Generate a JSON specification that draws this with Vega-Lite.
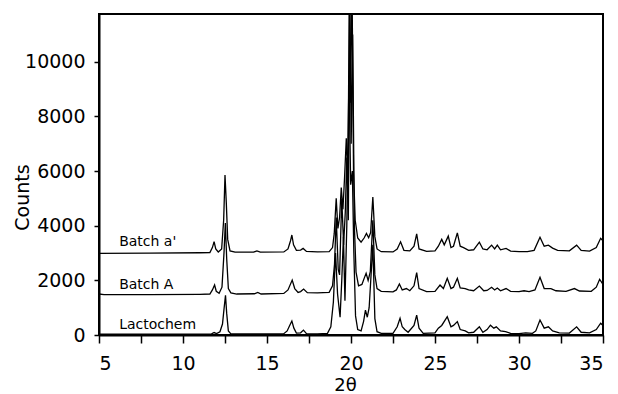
{
  "$schema": "https://vega.github.io/schema/vega-lite/v6.json",
  "width": 504,
  "height": 321,
  "autosize": {"type": "none"},
  "padding": {"left": 99, "top": 14, "right": 15, "bottom": 59},
  "background": "white",
  "config": {"view": {"stroke": "black", "strokeWidth": 2}, "font": "DejaVu Sans"},
  "datasets": {
    "labels": [
      {"label": "Batch a'", "x": 6.2, "y": 3400},
      {"label": "Batch A", "x": 6.2, "y": 1830},
      {"label": "Lactochem", "x": 6.2, "y": 366}
    ],
    "xrd": [
      {"s": "Batch a'", "x": 5.0, "y": 2990}, {"s": "Batch a'", "x": 8.0, "y": 3000}, {"s": "Batch a'", "x": 11.0, "y": 3010}, {"s": "Batch a'", "x": 11.6, "y": 3020}, {"s": "Batch a'", "x": 11.75, "y": 3200}, {"s": "Batch a'", "x": 11.85, "y": 3420}, {"s": "Batch a'", "x": 11.95, "y": 3150}, {"s": "Batch a'", "x": 12.1, "y": 3040}, {"s": "Batch a'", "x": 12.3, "y": 3150}, {"s": "Batch a'", "x": 12.42, "y": 4200}, {"s": "Batch a'", "x": 12.5, "y": 5860}, {"s": "Batch a'", "x": 12.58, "y": 4800}, {"s": "Batch a'", "x": 12.66, "y": 3500}, {"s": "Batch a'", "x": 12.8, "y": 3080}, {"s": "Batch a'", "x": 13.1, "y": 3030}, {"s": "Batch a'", "x": 14.2, "y": 3030}, {"s": "Batch a'", "x": 14.4, "y": 3080}, {"s": "Batch a'", "x": 14.6, "y": 3030}, {"s": "Batch a'", "x": 16.0, "y": 3040}, {"s": "Batch a'", "x": 16.25, "y": 3150}, {"s": "Batch a'", "x": 16.4, "y": 3450}, {"s": "Batch a'", "x": 16.48, "y": 3660}, {"s": "Batch a'", "x": 16.58, "y": 3300}, {"s": "Batch a'", "x": 16.75, "y": 3100}, {"s": "Batch a'", "x": 17.0, "y": 3110}, {"s": "Batch a'", "x": 17.15, "y": 3170}, {"s": "Batch a'", "x": 17.35, "y": 3060}, {"s": "Batch a'", "x": 18.0, "y": 3040}, {"s": "Batch a'", "x": 18.7, "y": 3050}, {"s": "Batch a'", "x": 18.9, "y": 3200}, {"s": "Batch a'", "x": 19.0, "y": 3700}, {"s": "Batch a'", "x": 19.12, "y": 5000}, {"s": "Batch a'", "x": 19.22, "y": 3900}, {"s": "Batch a'", "x": 19.32, "y": 4300}, {"s": "Batch a'", "x": 19.42, "y": 5400}, {"s": "Batch a'", "x": 19.52, "y": 4600}, {"s": "Batch a'", "x": 19.62, "y": 5800}, {"s": "Batch a'", "x": 19.72, "y": 7200}, {"s": "Batch a'", "x": 19.82, "y": 5600}, {"s": "Batch a'", "x": 19.9, "y": 13000}, {"s": "Batch a'", "x": 19.97, "y": 8500}, {"s": "Batch a'", "x": 20.06, "y": 13000}, {"s": "Batch a'", "x": 20.15, "y": 6000}, {"s": "Batch a'", "x": 20.25, "y": 4200}, {"s": "Batch a'", "x": 20.4, "y": 3550}, {"s": "Batch a'", "x": 20.6, "y": 3400}, {"s": "Batch a'", "x": 20.78, "y": 3550}, {"s": "Batch a'", "x": 20.92, "y": 3720}, {"s": "Batch a'", "x": 21.05, "y": 3560}, {"s": "Batch a'", "x": 21.17, "y": 3750}, {"s": "Batch a'", "x": 21.3, "y": 5050}, {"s": "Batch a'", "x": 21.42, "y": 3600}, {"s": "Batch a'", "x": 21.55, "y": 3150}, {"s": "Batch a'", "x": 21.8, "y": 3050}, {"s": "Batch a'", "x": 22.5, "y": 3040}, {"s": "Batch a'", "x": 22.75, "y": 3150}, {"s": "Batch a'", "x": 22.95, "y": 3410}, {"s": "Batch a'", "x": 23.15, "y": 3100}, {"s": "Batch a'", "x": 23.5, "y": 3080}, {"s": "Batch a'", "x": 23.75, "y": 3250}, {"s": "Batch a'", "x": 23.91, "y": 3700}, {"s": "Batch a'", "x": 24.05, "y": 3150}, {"s": "Batch a'", "x": 24.5, "y": 3060}, {"s": "Batch a'", "x": 25.0, "y": 3080}, {"s": "Batch a'", "x": 25.2, "y": 3250}, {"s": "Batch a'", "x": 25.4, "y": 3500}, {"s": "Batch a'", "x": 25.55, "y": 3300}, {"s": "Batch a'", "x": 25.79, "y": 3620}, {"s": "Batch a'", "x": 25.95, "y": 3200}, {"s": "Batch a'", "x": 26.1, "y": 3250}, {"s": "Batch a'", "x": 26.33, "y": 3740}, {"s": "Batch a'", "x": 26.5, "y": 3250}, {"s": "Batch a'", "x": 26.7, "y": 3200}, {"s": "Batch a'", "x": 27.0, "y": 3100}, {"s": "Batch a'", "x": 27.3, "y": 3120}, {"s": "Batch a'", "x": 27.64, "y": 3400}, {"s": "Batch a'", "x": 27.85, "y": 3150}, {"s": "Batch a'", "x": 28.1, "y": 3120}, {"s": "Batch a'", "x": 28.37, "y": 3290}, {"s": "Batch a'", "x": 28.55, "y": 3150}, {"s": "Batch a'", "x": 28.71, "y": 3290}, {"s": "Batch a'", "x": 28.9, "y": 3120}, {"s": "Batch a'", "x": 29.23, "y": 3170}, {"s": "Batch a'", "x": 29.5, "y": 3070}, {"s": "Batch a'", "x": 30.0, "y": 3050}, {"s": "Batch a'", "x": 30.5, "y": 3050}, {"s": "Batch a'", "x": 30.9, "y": 3100}, {"s": "Batch a'", "x": 31.25, "y": 3575}, {"s": "Batch a'", "x": 31.5, "y": 3250}, {"s": "Batch a'", "x": 31.75, "y": 3290}, {"s": "Batch a'", "x": 32.0, "y": 3180}, {"s": "Batch a'", "x": 32.3, "y": 3100}, {"s": "Batch a'", "x": 33.0, "y": 3080}, {"s": "Batch a'", "x": 33.43, "y": 3290}, {"s": "Batch a'", "x": 33.7, "y": 3100}, {"s": "Batch a'", "x": 34.2, "y": 3070}, {"s": "Batch a'", "x": 34.6, "y": 3200}, {"s": "Batch a'", "x": 34.86, "y": 3540}, {"s": "Batch a'", "x": 35.0, "y": 3450},

      {"s": "Batch A", "x": 5.0, "y": 1500}, {"s": "Batch A", "x": 5.3, "y": 1480}, {"s": "Batch A", "x": 8.0, "y": 1480}, {"s": "Batch A", "x": 11.0, "y": 1490}, {"s": "Batch A", "x": 11.6, "y": 1500}, {"s": "Batch A", "x": 11.75, "y": 1650}, {"s": "Batch A", "x": 11.88, "y": 1830}, {"s": "Batch A", "x": 11.98, "y": 1600}, {"s": "Batch A", "x": 12.15, "y": 1530}, {"s": "Batch A", "x": 12.32, "y": 1750}, {"s": "Batch A", "x": 12.44, "y": 3000}, {"s": "Batch A", "x": 12.52, "y": 4100}, {"s": "Batch A", "x": 12.6, "y": 2800}, {"s": "Batch A", "x": 12.7, "y": 1700}, {"s": "Batch A", "x": 12.85, "y": 1540}, {"s": "Batch A", "x": 13.2, "y": 1500}, {"s": "Batch A", "x": 14.25, "y": 1510}, {"s": "Batch A", "x": 14.45, "y": 1560}, {"s": "Batch A", "x": 14.65, "y": 1500}, {"s": "Batch A", "x": 16.0, "y": 1520}, {"s": "Batch A", "x": 16.25, "y": 1650}, {"s": "Batch A", "x": 16.5, "y": 2010}, {"s": "Batch A", "x": 16.65, "y": 1700}, {"s": "Batch A", "x": 16.85, "y": 1560}, {"s": "Batch A", "x": 17.0, "y": 1590}, {"s": "Batch A", "x": 17.18, "y": 1680}, {"s": "Batch A", "x": 17.4, "y": 1550}, {"s": "Batch A", "x": 18.0, "y": 1540}, {"s": "Batch A", "x": 18.7, "y": 1560}, {"s": "Batch A", "x": 18.9, "y": 1800}, {"s": "Batch A", "x": 19.02, "y": 2600}, {"s": "Batch A", "x": 19.12, "y": 4300}, {"s": "Batch A", "x": 19.24, "y": 2400}, {"s": "Batch A", "x": 19.32, "y": 2200}, {"s": "Batch A", "x": 19.45, "y": 5000}, {"s": "Batch A", "x": 19.56, "y": 3300}, {"s": "Batch A", "x": 19.66, "y": 4500}, {"s": "Batch A", "x": 19.75, "y": 6500}, {"s": "Batch A", "x": 19.84, "y": 4200}, {"s": "Batch A", "x": 19.93, "y": 12500}, {"s": "Batch A", "x": 20.01, "y": 7000}, {"s": "Batch A", "x": 20.1, "y": 11000}, {"s": "Batch A", "x": 20.2, "y": 4000}, {"s": "Batch A", "x": 20.3, "y": 2300}, {"s": "Batch A", "x": 20.45, "y": 1800}, {"s": "Batch A", "x": 20.65, "y": 1850}, {"s": "Batch A", "x": 20.8, "y": 2100}, {"s": "Batch A", "x": 20.9, "y": 2260}, {"s": "Batch A", "x": 21.02, "y": 2000}, {"s": "Batch A", "x": 21.15, "y": 2320}, {"s": "Batch A", "x": 21.3, "y": 4200}, {"s": "Batch A", "x": 21.42, "y": 2200}, {"s": "Batch A", "x": 21.55, "y": 1700}, {"s": "Batch A", "x": 21.8, "y": 1600}, {"s": "Batch A", "x": 22.5, "y": 1580}, {"s": "Batch A", "x": 22.7, "y": 1650}, {"s": "Batch A", "x": 22.88, "y": 1870}, {"s": "Batch A", "x": 23.05, "y": 1650}, {"s": "Batch A", "x": 23.3, "y": 1700}, {"s": "Batch A", "x": 23.5, "y": 1620}, {"s": "Batch A", "x": 23.75, "y": 1800}, {"s": "Batch A", "x": 23.91, "y": 2280}, {"s": "Batch A", "x": 24.05, "y": 1700}, {"s": "Batch A", "x": 24.5, "y": 1590}, {"s": "Batch A", "x": 25.0, "y": 1600}, {"s": "Batch A", "x": 25.3, "y": 1830}, {"s": "Batch A", "x": 25.5, "y": 1700}, {"s": "Batch A", "x": 25.73, "y": 2075}, {"s": "Batch A", "x": 25.95, "y": 1700}, {"s": "Batch A", "x": 26.1, "y": 1750}, {"s": "Batch A", "x": 26.33, "y": 2075}, {"s": "Batch A", "x": 26.5, "y": 1720}, {"s": "Batch A", "x": 26.8, "y": 1700}, {"s": "Batch A", "x": 27.0, "y": 1650}, {"s": "Batch A", "x": 27.3, "y": 1620}, {"s": "Batch A", "x": 27.64, "y": 1790}, {"s": "Batch A", "x": 27.9, "y": 1620}, {"s": "Batch A", "x": 28.1, "y": 1630}, {"s": "Batch A", "x": 28.37, "y": 1745}, {"s": "Batch A", "x": 28.55, "y": 1650}, {"s": "Batch A", "x": 28.71, "y": 1720}, {"s": "Batch A", "x": 28.9, "y": 1620}, {"s": "Batch A", "x": 29.23, "y": 1700}, {"s": "Batch A", "x": 29.5, "y": 1600}, {"s": "Batch A", "x": 30.0, "y": 1590}, {"s": "Batch A", "x": 30.3, "y": 1620}, {"s": "Batch A", "x": 30.6, "y": 1590}, {"s": "Batch A", "x": 30.95, "y": 1650}, {"s": "Batch A", "x": 31.25, "y": 2110}, {"s": "Batch A", "x": 31.5, "y": 1700}, {"s": "Batch A", "x": 31.9, "y": 1700}, {"s": "Batch A", "x": 32.2, "y": 1620}, {"s": "Batch A", "x": 32.8, "y": 1600}, {"s": "Batch A", "x": 33.3, "y": 1700}, {"s": "Batch A", "x": 33.6, "y": 1610}, {"s": "Batch A", "x": 34.3, "y": 1600}, {"s": "Batch A", "x": 34.6, "y": 1750}, {"s": "Batch A", "x": 34.8, "y": 2040}, {"s": "Batch A", "x": 35.0, "y": 1850},

      {"s": "Lactochem", "x": 5.0, "y": 30}, {"s": "Lactochem", "x": 8.0, "y": 30}, {"s": "Lactochem", "x": 11.0, "y": 30}, {"s": "Lactochem", "x": 11.7, "y": 40}, {"s": "Lactochem", "x": 11.85, "y": 90}, {"s": "Lactochem", "x": 12.0, "y": 50}, {"s": "Lactochem", "x": 12.2, "y": 120}, {"s": "Lactochem", "x": 12.35, "y": 400}, {"s": "Lactochem", "x": 12.45, "y": 1000}, {"s": "Lactochem", "x": 12.53, "y": 1450}, {"s": "Lactochem", "x": 12.6, "y": 800}, {"s": "Lactochem", "x": 12.7, "y": 150}, {"s": "Lactochem", "x": 12.85, "y": 40}, {"s": "Lactochem", "x": 14.0, "y": 40}, {"s": "Lactochem", "x": 16.0, "y": 50}, {"s": "Lactochem", "x": 16.2, "y": 150}, {"s": "Lactochem", "x": 16.35, "y": 350}, {"s": "Lactochem", "x": 16.48, "y": 510}, {"s": "Lactochem", "x": 16.6, "y": 250}, {"s": "Lactochem", "x": 16.75, "y": 70}, {"s": "Lactochem", "x": 17.0, "y": 80}, {"s": "Lactochem", "x": 17.17, "y": 180}, {"s": "Lactochem", "x": 17.35, "y": 50}, {"s": "Lactochem", "x": 18.0, "y": 40}, {"s": "Lactochem", "x": 18.6, "y": 60}, {"s": "Lactochem", "x": 18.8, "y": 300}, {"s": "Lactochem", "x": 18.95, "y": 1200}, {"s": "Lactochem", "x": 19.08, "y": 3000}, {"s": "Lactochem", "x": 19.2, "y": 1500}, {"s": "Lactochem", "x": 19.35, "y": 650}, {"s": "Lactochem", "x": 19.45, "y": 2000}, {"s": "Lactochem", "x": 19.55, "y": 3600}, {"s": "Lactochem", "x": 19.64, "y": 1250}, {"s": "Lactochem", "x": 19.75, "y": 4000}, {"s": "Lactochem", "x": 19.88, "y": 9500}, {"s": "Lactochem", "x": 19.98, "y": 5500}, {"s": "Lactochem", "x": 20.08, "y": 6000}, {"s": "Lactochem", "x": 20.17, "y": 3000}, {"s": "Lactochem", "x": 20.27, "y": 700}, {"s": "Lactochem", "x": 20.4, "y": 200}, {"s": "Lactochem", "x": 20.6, "y": 150}, {"s": "Lactochem", "x": 20.75, "y": 500}, {"s": "Lactochem", "x": 20.86, "y": 910}, {"s": "Lactochem", "x": 20.97, "y": 650}, {"s": "Lactochem", "x": 21.08, "y": 1000}, {"s": "Lactochem", "x": 21.3, "y": 3300}, {"s": "Lactochem", "x": 21.42, "y": 600}, {"s": "Lactochem", "x": 21.55, "y": 120}, {"s": "Lactochem", "x": 21.8, "y": 60}, {"s": "Lactochem", "x": 22.5, "y": 60}, {"s": "Lactochem", "x": 22.75, "y": 300}, {"s": "Lactochem", "x": 22.92, "y": 610}, {"s": "Lactochem", "x": 23.05, "y": 300}, {"s": "Lactochem", "x": 23.2, "y": 200}, {"s": "Lactochem", "x": 23.4, "y": 100}, {"s": "Lactochem", "x": 23.75, "y": 350}, {"s": "Lactochem", "x": 23.91, "y": 730}, {"s": "Lactochem", "x": 24.05, "y": 250}, {"s": "Lactochem", "x": 24.3, "y": 60}, {"s": "Lactochem", "x": 25.0, "y": 80}, {"s": "Lactochem", "x": 25.2, "y": 250}, {"s": "Lactochem", "x": 25.4, "y": 350}, {"s": "Lactochem", "x": 25.73, "y": 670}, {"s": "Lactochem", "x": 25.95, "y": 300}, {"s": "Lactochem", "x": 26.1, "y": 350}, {"s": "Lactochem", "x": 26.33, "y": 490}, {"s": "Lactochem", "x": 26.5, "y": 200}, {"s": "Lactochem", "x": 26.8, "y": 150}, {"s": "Lactochem", "x": 27.0, "y": 80}, {"s": "Lactochem", "x": 27.3, "y": 100}, {"s": "Lactochem", "x": 27.64, "y": 305}, {"s": "Lactochem", "x": 27.85, "y": 100}, {"s": "Lactochem", "x": 28.1, "y": 200}, {"s": "Lactochem", "x": 28.3, "y": 360}, {"s": "Lactochem", "x": 28.5, "y": 250}, {"s": "Lactochem", "x": 28.65, "y": 300}, {"s": "Lactochem", "x": 28.9, "y": 150}, {"s": "Lactochem", "x": 29.2, "y": 120}, {"s": "Lactochem", "x": 29.5, "y": 60}, {"s": "Lactochem", "x": 30.0, "y": 50}, {"s": "Lactochem", "x": 30.4, "y": 80}, {"s": "Lactochem", "x": 30.8, "y": 60}, {"s": "Lactochem", "x": 31.0, "y": 150}, {"s": "Lactochem", "x": 31.25, "y": 550}, {"s": "Lactochem", "x": 31.5, "y": 250}, {"s": "Lactochem", "x": 31.75, "y": 300}, {"s": "Lactochem", "x": 32.0, "y": 150}, {"s": "Lactochem", "x": 32.4, "y": 80}, {"s": "Lactochem", "x": 33.0, "y": 70}, {"s": "Lactochem", "x": 33.43, "y": 300}, {"s": "Lactochem", "x": 33.7, "y": 100}, {"s": "Lactochem", "x": 34.2, "y": 80}, {"s": "Lactochem", "x": 34.6, "y": 200}, {"s": "Lactochem", "x": 34.86, "y": 430}, {"s": "Lactochem", "x": 35.0, "y": 350}
    ]
  },
  "layer": [
    {
      "data": {"name": "xrd"},
      "mark": {"type": "line", "color": "black", "strokeWidth": 1.3, "clip": true},
      "encoding": {
        "x": {
          "field": "x", "type": "quantitative",
          "scale": {"domain": [5, 35], "nice": false, "zero": false},
          "axis": {
            "title": "2θ", "values": [5, 7.5, 10, 12.5, 15, 17.5, 20, 22.5, 25, 27.5, 30, 32.5, 35],
            "labelExpr": "datum.value % 5 === 0 ? datum.label : ''",
            "grid": false, "tickSize": 8, "tickColor": "black", "tickWidth": 1.5,
            "domainColor": "black", "domainWidth": 2,
            "labelFont": "DejaVu Sans", "labelFontSize": 19, "labelColor": "black", "labelPadding": 11,
            "titleFont": "DejaVu Sans", "titleFontSize": 18, "titleFontWeight": "normal", "titleColor": "black",
            "titlePadding": 3, "titleX": 246
          }
        },
        "y": {
          "field": "y", "type": "quantitative",
          "scale": {"domain": [0, 11750], "nice": false},
          "axis": {
            "title": "Counts", "values": [0, 1000, 2000, 3000, 4000, 5000, 6000, 7000, 8000, 9000, 10000, 11000],
            "format": "d",
            "labelExpr": "datum.value % 2000 === 0 ? datum.label : ''",
            "grid": false, "tickSize": 5, "tickColor": "black", "tickWidth": 1.5,
            "domainColor": "black", "domainWidth": 2,
            "labelFont": "DejaVu Sans", "labelFontSize": 19, "labelColor": "black", "labelPadding": 9,
            "titleFont": "DejaVu Sans", "titleFontSize": 19, "titleFontWeight": "normal", "titleColor": "black",
            "titleX": -71, "titleY": 183, "titleBaseline": "alphabetic", "titleAngle": 270
          }
        },
        "detail": {"field": "s", "type": "nominal"}
      }
    },
    {
      "data": {"name": "labels"},
      "mark": {"type": "text", "align": "left", "baseline": "middle", "fontSize": 14, "font": "DejaVu Sans", "color": "black"},
      "encoding": {
        "x": {"field": "x", "type": "quantitative"},
        "y": {"field": "y", "type": "quantitative"},
        "text": {"field": "label", "type": "nominal"}
      }
    }
  ]
}
